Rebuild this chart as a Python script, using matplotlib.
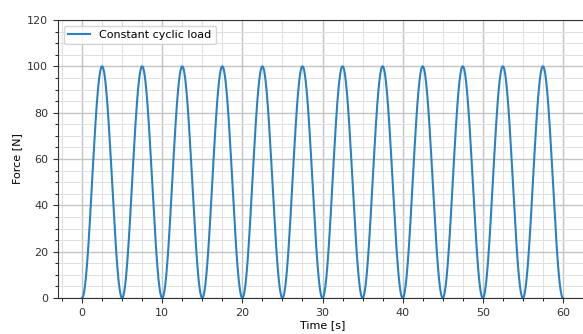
import numpy as np
import matplotlib
matplotlib.use("Agg")
import matplotlib.pyplot as plt
from matplotlib.ticker import AutoMinorLocator

# Load parameters
amplitude_N = 100.0      # peak force
period_s = 5.0           # one cycle every 5 s
duration_s = 60.0        # 12 cycles
label = "Constant cyclic load"
x_label = "Time [s]"
y_label = "Force [N]"
x_ticks = [0, 10, 20, 30, 40, 50, 60]
y_ticks = [0, 20, 40, 60, 80, 100, 120]

t = np.linspace(0, duration_s, 3001)
force = amplitude_N / 2 * (1 - np.cos(2 * np.pi * t / period_s))

fig = plt.figure(figsize=(5.83, 3.34), dpi=100)
ax = fig.add_axes([58 / 583, 36 / 334, (587 - 58) / 583, (298 - 20) / 334])
ax.plot(t, force, color="#2a82c0", lw=1.5, label=label)
ax.set_xlim(-3, 63)
ax.set_ylim(0, 120)
ax.set_xticks(x_ticks)
ax.set_yticks(y_ticks)
ax.xaxis.set_minor_locator(AutoMinorLocator(4))
ax.yaxis.set_minor_locator(AutoMinorLocator(4))
ax.grid(which="major", color="#c4c4c4", lw=1.0)
ax.grid(which="minor", color="#e0e0e0", lw=0.7)
ax.tick_params(labelsize=8, colors="#333333")
ax.tick_params(which="minor", length=2.5)
ax.set_xlabel(x_label, fontsize=8, labelpad=2)
ax.set_ylabel(y_label, fontsize=8, labelpad=4)
for s in ax.spines.values():
    s.set_color("#333333")
ax.legend(loc="upper left", fontsize=8, frameon=True)
fig.savefig("out.png", dpi=100)
